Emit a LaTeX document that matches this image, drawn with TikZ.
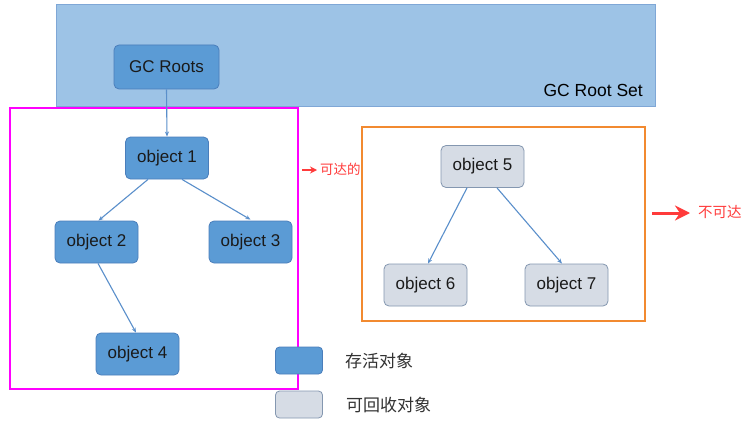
\documentclass[tikz,border=0pt]{standalone}
\usepackage{fontspec}
\setmainfont{Liberation Sans}
\newfontfamily\cjk{Noto Sans CJK SC}
\usetikzlibrary{arrows.meta,calc}
\definecolor{setfill}{HTML}{9DC3E6}
\definecolor{setdraw}{HTML}{7FA7D6}
\definecolor{livefill}{HTML}{5B9BD5}
\definecolor{livedraw}{HTML}{4A7EBB}
\definecolor{deadfill}{HTML}{D6DCE5}
\definecolor{deaddraw}{HTML}{8497B0}
\definecolor{edgecol}{HTML}{5A8FCB}
\definecolor{magbox}{HTML}{FF00FF}
\definecolor{orgbox}{HTML}{F28A30}
\definecolor{redlab}{HTML}{FF3B3B}
\definecolor{txt}{HTML}{1A1A1A}
\begin{document}
\begin{tikzpicture}[x=1pt,y=-1pt,
  objbox/.style={rounded corners=5pt, minimum width=83pt, minimum height=42pt, inner sep=0pt,
    font=\fontsize{17}{20}\selectfont, text=txt, line width=0.8pt},
  live/.style={objbox, fill=livefill, draw=livedraw},
  dead/.style={objbox, fill=deadfill, draw=deaddraw},
  edge/.style={draw=edgecol, line width=1.1pt, -{Stealth[length=5pt,width=4pt]}},
  legbox/.style={rounded corners=4pt, minimum width=47pt, minimum height=27pt, inner sep=0pt, line width=0.8pt},
  legtext/.style={anchor=west, font=\cjk\fontsize{17}{20}\selectfont, text=black!80},
  redtext/.style={anchor=west, text=redlab},
  regionbox/.style={line width=2pt}
]
\useasboundingbox[fill=white] (0,0) rectangle (751,425);
% GC Root Set
\node[draw=setdraw, fill=setfill, line width=1pt, minimum width=599pt, minimum height=102pt, inner sep=0pt] (rootset) at (355.5,56) {};
\node[anchor=south east, inner sep=0pt, font=\fontsize{17.5}{20}\selectfont, text=black] (rootsetlab) at (643,97) {GC Root Set};
\node[live, minimum width=105pt, minimum height=44pt] (roots) at (166.5,67) {GC Roots};
% regions
\node[draw=magbox, regionbox, minimum width=288pt, minimum height=281pt, inner sep=0pt] (reach) at (154,248.5) {};
\node[draw=orgbox, regionbox, minimum width=283pt, minimum height=194pt, inner sep=0pt] (unreach) at (503.5,224) {};
% objects
\node[live] (o1) at (167,158) {object 1};
\node[live] (o2) at (96.5,242) {object 2};
\node[live] (o3) at (250.5,242) {object 3};
\node[live] (o4) at (137.5,354) {object 4};
\node[dead] (o5) at (482.5,166.5) {object 5};
\node[dead] (o6) at (425.5,285) {object 6};
\node[dead] (o7) at (566.5,285) {object 7};
% edges
\draw[edge] (roots.south) -- (o1.north);
\draw[edge] ($(o1.south)+(-19,0)$) -- ($(o2.north)+(2,0)$);
\draw[edge] ($(o1.south)+(15,0)$) -- ($(o3.north)+(0,-1)$);
\draw[edge] ($(o2.south)+(1.5,0)$) -- ($(o4.north)+(-1.5,0)$);
\draw[edge] ($(o5.south)+(-15.5,0)$) -- ($(o6.north)+(2.5,0)$);
\draw[edge] ($(o5.south)+(14.5,0)$) -- ($(o7.north)+(-4.5,0)$);
% red labels
\coordinate (ra1) at (302,170);
\node[redtext, font=\cjk\fontsize{13.5}{16}\selectfont, inner sep=0pt] (lab1) at (320,169) {可达的};
\draw[redlab, line width=1.5pt, -{Stealth[length=7pt,width=7pt]}] (ra1) -- ($(lab1.west)+(-3,1)$);
\coordinate (ra2) at (652,213);
\node[redtext, font=\cjk\fontsize{14.5}{17}\selectfont, inner sep=0pt] (lab2) at (698,212) {不可达};
\draw[redlab, line width=3pt, -{Stealth[length=15pt,width=15pt]}] (ra2) -- ($(lab2.west)+(-8,1)$);
% legend
\node[legbox, fill=livefill, draw=livedraw] (leg1) at (299,360.5) {};
\node[legtext, inner sep=0pt] (leg1t) at (345,361) {存活对象};
\node[legbox, fill=deadfill, draw=deaddraw] (leg2) at (299,404.5) {};
\node[legtext, inner sep=0pt] (leg2t) at (346,405) {可回收对象};
\end{tikzpicture}
\end{document}
